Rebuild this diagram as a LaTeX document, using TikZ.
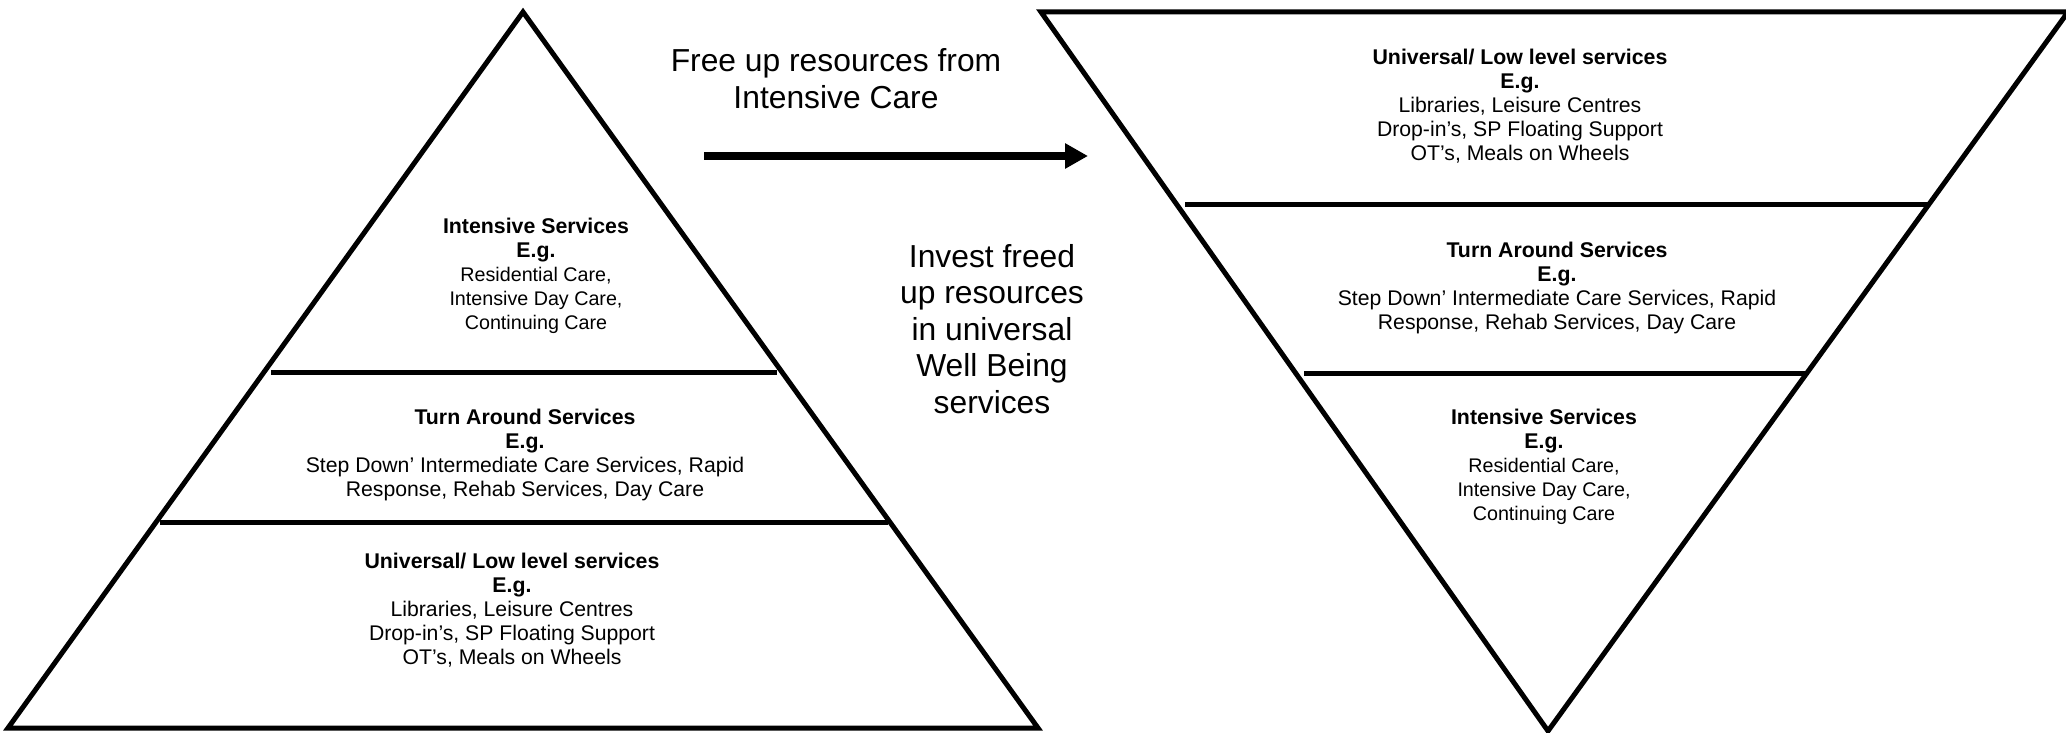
\documentclass[tikz,border=0pt]{standalone}
\usepackage{fontspec}
\setmainfont{Liberation Sans}
\usetikzlibrary{arrows.meta}
\newcommand{\myhead}[1]{{\fontsize{21.3}{24}\selectfont\bfseries #1}}
\tikzset{
  tri/.style={line width=5pt, line join=miter},
  divider/.style={line width=5pt},
  flow/.style={line width=8pt, -{Triangle[length=23pt,width=24pt]}},
  small/.style={font=\fontsize{21.2}{24}\selectfont, align=center, anchor=north, inner sep=0pt},
  smallI/.style={font=\fontsize{19.7}{24}\selectfont, align=center, anchor=north, inner sep=0pt},
  bigA/.style={font=\fontsize{31.8}{37.5}\selectfont, align=center, anchor=north, inner sep=0pt},
  bigB/.style={font=\fontsize{31.8}{36.5}\selectfont, align=center, anchor=north, inner sep=0pt},
}
\begin{document}
\begin{tikzpicture}[x=1pt,y=-1pt]
\useasboundingbox (0,0) rectangle (2066,733);
% left pyramid
\coordinate (LA) at (523,12);
\coordinate (LB) at (8,728);
\coordinate (LC) at (1038,728);
\draw[tri] (LA) -- (LB) -- (LC) -- cycle;
\coordinate (L1a) at (271,372);
\coordinate (L1b) at (777,372);
\coordinate (L2a) at (160,522);
\coordinate (L2b) at (888,522);
\draw[divider] (L1a) -- (L1b);
\draw[divider] (L2a) -- (L2b);
% right inverted pyramid
\coordinate (RA) at (1041,12);
\coordinate (RB) at (2068,12);
\coordinate (RC) at (1548,731);
\draw[tri] (RA) -- (RB) -- (RC) -- cycle;
\coordinate (R1a) at (1185,204);
\coordinate (R1b) at (1929,204);
\coordinate (R2a) at (1304,373);
\coordinate (R2b) at (1806,373);
\draw[divider] (R1a) -- (R1b);
\draw[divider] (R2a) -- (R2b);
% arrow
\coordinate (arrS) at (704,156);
\coordinate (arrE) at (1088,156);
\draw[flow] (arrS) -- (arrE);
% big texts
\node[bigA] (free) at (836,44.75) {\strut Free up resources from\\Intensive Care};
\node[bigB] (invest) at (992,241.45) {\strut Invest freed\\up resources\\in universal\\Well Being\\services};
% left pyramid texts
\node[smallI] (lint) at (536,216.2) {\myhead{\strut Intensive Services}\\\myhead{E.g.}\\Residential Care,\\Intensive Day Care,\\Continuing Care};
\node[small] (lturn) at (525,407.2) {\myhead{\strut Turn Around Services}\\\myhead{E.g.}\\Step Down’ Intermediate Care Services, Rapid\\Response, Rehab Services, Day Care};
\node[small] (luni) at (512,551.2) {\myhead{\strut Universal/ Low level services}\\\myhead{E.g.}\\Libraries, Leisure Centres\\Drop-in’s, SP Floating Support\\OT’s, Meals on Wheels};
% right pyramid texts
\node[small] (runi) at (1520,47.2) {\myhead{\strut Universal/ Low level services}\\\myhead{E.g.}\\Libraries, Leisure Centres\\Drop-in’s, SP Floating Support\\OT’s, Meals on Wheels};
\node[small] (rturn) at (1557,240.2) {\myhead{\strut Turn Around Services}\\\myhead{E.g.}\\Step Down’ Intermediate Care Services, Rapid\\Response, Rehab Services, Day Care};
\node[smallI] (rint) at (1544,407.2) {\myhead{\strut Intensive Services}\\\myhead{E.g.}\\Residential Care,\\Intensive Day Care,\\Continuing Care};
\end{tikzpicture}
\end{document}
